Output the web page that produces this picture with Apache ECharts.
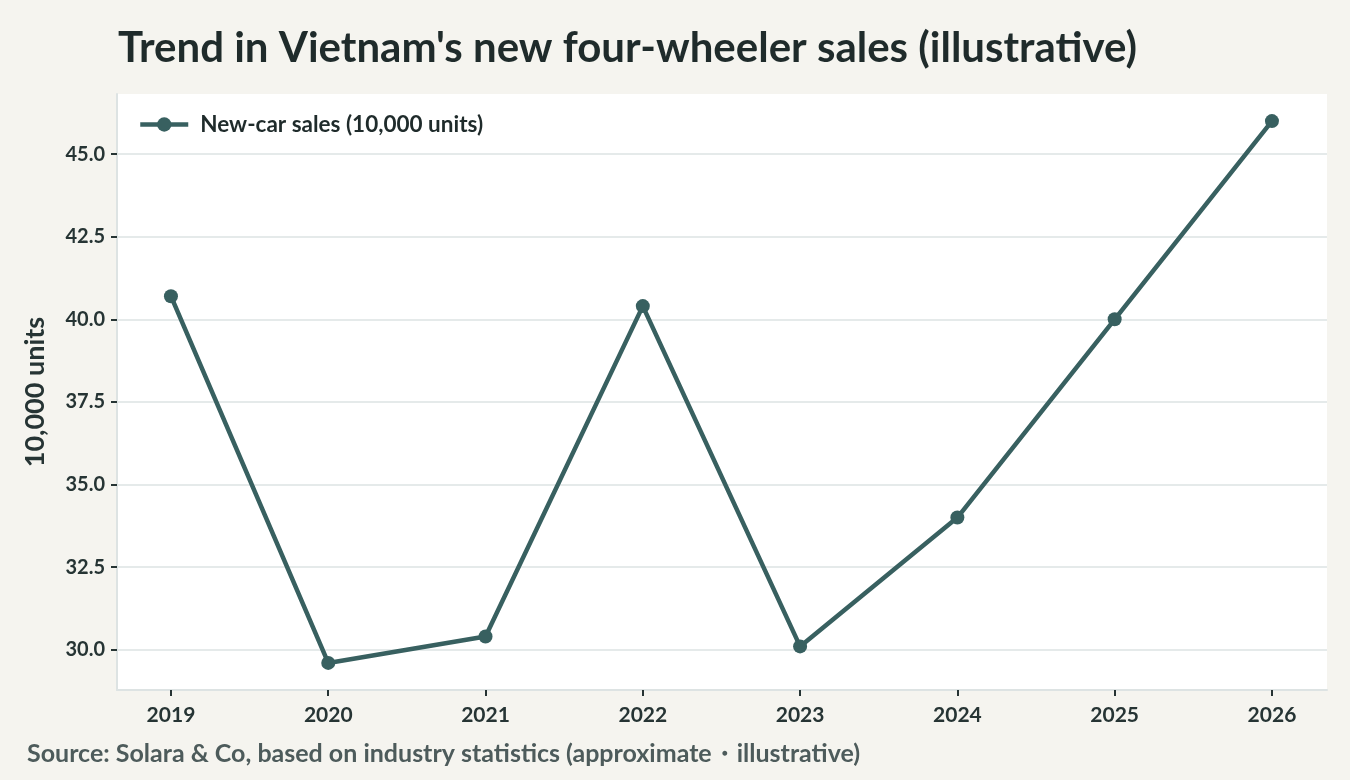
<!DOCTYPE html>
<html>
<head>
<meta charset="utf-8">
<script src="https://cdn.jsdelivr.net/npm/echarts@6/dist/echarts.min.js"></script>
<style>
  html, body { margin: 0; padding: 0; background: #f5f4ef; }
  #chart { width: 1350px; height: 780px; }
</style>
</head>
<body>
<div id="chart"></div>
<script>
var years = [2019, 2020, 2021, 2022, 2023, 2024, 2025, 2026];
var sales = [40.7, 29.6, 30.4, 40.4, 30.1, 34.0, 40.0, 46.0];
var yTicks = [30.0, 32.5, 35.0, 37.5, 40.0, 42.5, 45.0];

var font = 'Lato';
var ink = '#263434';
var lineColor = '#386060';

var chart = echarts.init(document.getElementById('chart'));
var option = {
    backgroundColor: '#f5f4ef',
    textStyle: { fontFamily: font },
    title: {
        text: "Trend in Vietnam's new four-wheeler sales (illustrative)",
        left: 113,
        top: 22,
        textStyle: { fontSize: 42, fontWeight: 'bold', color: '#1f2b2b', fontFamily: font }
    },
    graphic: [{
        type: 'text',
        left: 27,
        top: 741,
        style: {
            text: 'Source: Solara & Co, based on industry statistics (approximate\u30fbillustrative)',
            fontSize: 25,
            fontWeight: 'bold',
            fill: '#4d5b5b',
            fontFamily: font
        }
    }],
    legend: {
        left: 133,
        top: 108,
        itemWidth: 48,
        itemHeight: 18,
        lineStyle: { width: 4.5 },
        textStyle: { fontSize: 22.5, fontWeight: 'bold', color: '#1f2b2b', padding: [0, 0, 0, 7] },
        data: ['New-car sales (10,000 units)']
    },
    grid: {
        left: 117,
        right: 23,
        top: 94,
        bottom: 90,
        show: true,
        backgroundColor: '#ffffff',
        borderWidth: 0
    },
    xAxis: {
        type: 'value',
        min: 2018.657,
        max: 2026.35,
        axisLine: { show: true, lineStyle: { color: '#dde3e3', width: 2 } },
        axisTick: { show: true, length: 6, lineStyle: { color: ink, width: 2 }, customValues: years },
        axisLabel: {
            customValues: years,
            margin: 15,
            fontSize: 21, fontWeight: 'bold', color: ink,
            formatter: function (v) { return String(v); }
        },
        splitLine: { show: false }
    },
    yAxis: {
        type: 'value',
        min: 28.78,
        max: 46.82,
        name: '10,000 units',
        nameLocation: 'middle',
        nameGap: 68,
        nameTextStyle: { fontSize: 27, fontWeight: 'bold', color: ink },
        axisLine: { show: true, lineStyle: { color: '#dde3e3', width: 2 } },
        axisTick: { show: true, length: 6, lineStyle: { color: ink, width: 2 }, customValues: yTicks },
        axisLabel: {
            customValues: yTicks,
            margin: 12,
            fontSize: 20, fontWeight: 'bold', color: ink,
            formatter: function (v) { return v.toFixed(1); }
        },
        splitLine: { show: true, lineStyle: { color: '#dde3e3', width: 1.5 } }
    },
    series: [{
        name: 'New-car sales (10,000 units)',
        type: 'line',
        data: years.map(function (y, i) { return [y, sales[i]]; }),
        symbol: 'circle',
        symbolSize: 14,
        lineStyle: { color: lineColor, width: 4.5 },
        itemStyle: { color: lineColor },
        animation: false
    }]
};
chart.setOption(option);
</script>
</body>
</html>
